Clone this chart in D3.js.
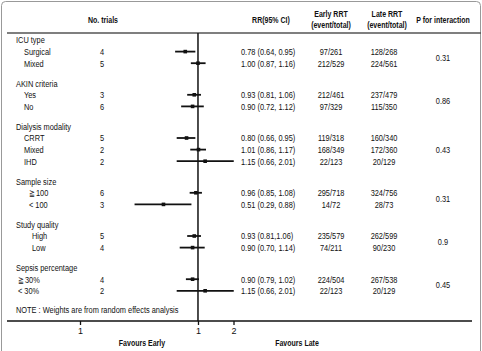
<!DOCTYPE html>
<html>
<head>
<meta charset="utf-8">
<script src="https://cdn.jsdelivr.net/npm/d3@7"></script>
<style>
	body { margin: 0; background: #fff; }
	text { font-family: "Liberation Sans", Arial, sans-serif; fill: #111; }
	.hd { font-weight: bold; font-size: 9px; }
</style>
</head>
<body>
<div id="chart-area"></div>
<script>

// forest plot data - subgroup analysis, early vs late RRT
let groups = ["ICU type", "AKIN criteria", "Dialysis modality", "Sample size", "Study quality", "Sepsis percentage"];
let groupOf = [0, 0, 1, 1, 2, 2, 2, 3, 3, 4, 4, 5, 5];
let labels = ["Surgical", "Mixed", "Yes", "No", "CRRT", "Mixed", "IHD", "\u2267100", "< 100", "High", "Low", "\u226730%", "< 30%"];
let trials = [4, 5, 3, 6, 5, 2, 2, 6, 3, 5, 4, 4, 2];
let rr = [0.78, 1.00, 0.93, 0.90, 0.80, 1.01, 1.15, 0.96, 0.51, 0.93, 0.90, 0.90, 1.15];
let lower = [0.64, 0.87, 0.81, 0.72, 0.66, 0.86, 0.66, 0.85, 0.29, 0.81, 0.70, 0.79, 0.66];
let upper = [0.95, 1.16, 1.06, 1.12, 0.95, 1.17, 2.01, 1.08, 0.88, 1.06, 1.14, 1.02, 2.01];
let ciLabels = ["0.78 (0.64, 0.95)", "1.00 (0.87, 1.16)", "0.93 (0.81, 1.06)", "0.90 (0.72, 1.12)",
	"0.80 (0.66, 0.95)", "1.01 (0.86, 1.17)", "1.15 (0.66, 2.01)", "0.96 (0.85, 1.08)", "0.51 (0.29, 0.88)",
	"0.93 (0.81,1.06)", "0.90 (0.70, 1.14)", "0.90 (0.79, 1.02)", "1.15 (0.66, 2.01)"];
let earlyRRT = ["97/261", "212/529", "212/461", "97/329", "119/318", "168/349", "22/123", "295/718", "14/72", "235/579", "74/211", "224/504", "22/123"];
let lateRRT = ["128/268", "224/561", "237/479", "115/350", "160/340", "172/360", "20/129", "324/756", "28/73", "262/599", "90/230", "267/538", "20/129"];
let pInteraction = ["0.31", "0.86", "0.43", "0.31", "0.9", "0.45"];
let tickValues = [0.1, 1, 2];
let tickLabels = ["1", "1", "2"];

let width = 482, height = 351;

// horizontal squeeze so the text has the narrow look of the original font
let squeeze = 0.78;
function place(x, y) {
	return "translate(" + x + "," + y + ") scale(" + squeeze + ",1)";
}

let svg = d3.select("#chart-area").append("svg")
	.attr("width", width)
	.attr("height", height);

// outer frame
svg.append("rect")
	.attr("x", 1.5).attr("y", 1.5)
	.attr("width", 479).attr("height", 370)
	.attr("rx", 4)
	.attr("fill", "none")
	.attr("stroke", "#999");

// row positions: header, then items, then a gap before next header
let rowStep = 11.6, groupGap = 20;
let headerY = [], itemY = [];
let yPos = 40;
groups.forEach((g, gi) => {
	headerY.push(yPos);
	let idx = d3.range(labels.length).filter(i => groupOf[i] === gi);
	idx.forEach(i => { yPos += rowStep; itemY[i] = yPos; });
	yPos += groupGap;
});
let noteY = yPos - 1;

let indent = [24, 24, 24, 29, 32, 18];

// scale for risk ratio (log)
let x = d3.scaleLog()
	.domain([0.1, 2])
	.range([80, 233.5]);

// column headers
let headerText = [
	["No. trials", 103, 20], ["RR(95% CI)", 271, 20],
	["Early RRT", 331, 14], ["(event/total)", 331, 25],
	["Late RRT", 387, 14], ["(event/total)", 387, 25],
	["P for interaction", 443, 20]
];
svg.append("g").attr("class", "hd")
	.selectAll("text")
	.data(headerText)
	.enter().append("text")
	.attr("transform", d => place(d[1], d[2]))
	.attr("text-anchor", "middle")
	.attr("dy", "0.35em")
	.text(d => d[0]);

// header rule
svg.append("line")
	.attr("x1", 7).attr("x2", 481)
	.attr("y1", 33).attr("y2", 33)
	.attr("stroke", "#555").attr("stroke-width", 1.5);

let body = svg.append("g").attr("font-size", "9.5px");

// group headers
body.selectAll(".grp")
	.data(groups)
	.enter().append("text")
	.attr("class", "grp")
	.attr("transform", (d, i) => place(16, headerY[i]))
	.attr("dy", "0.35em")
	.text(d => d);

// subgroup rows
let rows = body.selectAll(".row")
	.data(labels)
	.enter().append("g")
	.attr("class", "row")
	.attr("transform", (d, i) => "translate(0," + itemY[i] + ")");

rows.append("text")
	.attr("transform", (d, i) => place(indent[groupOf[i]], 0))
	.attr("dy", "0.35em")
	.text(d => d);

rows.append("text")
	.attr("transform", place(102, 0))
	.attr("text-anchor", "middle")
	.attr("dy", "0.35em")
	.text((d, i) => trials[i]);

rows.append("text")
	.attr("transform", place(241, 0))
	.attr("dy", "0.35em")
	.text((d, i) => ciLabels[i]);

rows.append("text")
	.attr("transform", place(331, 0))
	.attr("text-anchor", "middle")
	.attr("dy", "0.35em")
	.text((d, i) => earlyRRT[i]);

rows.append("text")
	.attr("transform", place(384, 0))
	.attr("text-anchor", "middle")
	.attr("dy", "0.35em")
	.text((d, i) => lateRRT[i]);

// p for interaction, centered on each group's rows
body.selectAll(".pval")
	.data(pInteraction)
	.enter().append("text")
	.attr("class", "pval")
	.attr("transform", (d, gi) => place(443, d3.mean(itemY.filter((y, i) => groupOf[i] === gi))))
	.attr("text-anchor", "middle")
	.attr("dy", "0.35em")
	.text(d => d);

body.append("text")
	.attr("transform", place(16, noteY))
	.attr("dy", "0.35em")
	.text("NOTE : Weights are from random effects analysis");

// reference line at RR = 1
let axisY = 321;
svg.append("line")
	.attr("x1", x(1)).attr("x2", x(1))
	.attr("y1", 33).attr("y2", axisY)
	.attr("stroke", "#111").attr("stroke-width", 1.5);

// confidence intervals and point estimates
svg.selectAll(".ci")
	.data(rr)
	.enter().append("line")
	.attr("class", "ci")
	.attr("x1", (d, i) => x(lower[i]))
	.attr("x2", (d, i) => x(upper[i]))
	.attr("y1", (d, i) => itemY[i])
	.attr("y2", (d, i) => itemY[i])
	.attr("stroke", "#111")
	.attr("stroke-width", 1.8);

svg.selectAll(".pt")
	.data(rr)
	.enter().append("rect")
	.attr("class", "pt")
	.attr("x", d => x(d) - 1.8)
	.attr("y", (d, i) => itemY[i] - 1.8)
	.attr("width", 3.6)
	.attr("height", 3.6)
	.attr("fill", "#111");

// x axis
svg.append("line")
	.attr("x1", 7).attr("x2", 472)
	.attr("y1", axisY).attr("y2", axisY)
	.attr("stroke", "#111").attr("stroke-width", 1.5);

let xAxis = svg.append("g")
	.attr("class", "x-axis")
	.attr("transform", "translate(0," + axisY + ")")
	.call(d3.axisBottom(x)
		.tickValues(tickValues)
		.tickSize(4)
		.tickFormat((d, i) => tickLabels[i]));

xAxis.select(".domain").remove();
xAxis.selectAll(".tick line").attr("stroke", "#111").attr("stroke-width", 1.3);
xAxis.selectAll(".tick text")
	.attr("font-family", null)
	.attr("font-size", "9px")
	.attr("fill", "#111")
	.attr("y", 7);

svg.append("text").attr("class", "hd")
	.attr("transform", place(142, 343))
	.attr("text-anchor", "middle").attr("dy", "0.35em")
	.text("Favours Early");
svg.append("text").attr("class", "hd")
	.attr("transform", place(297, 343))
	.attr("text-anchor", "middle").attr("dy", "0.35em")
	.text("Favours Late");

</script>
</body>
</html>
